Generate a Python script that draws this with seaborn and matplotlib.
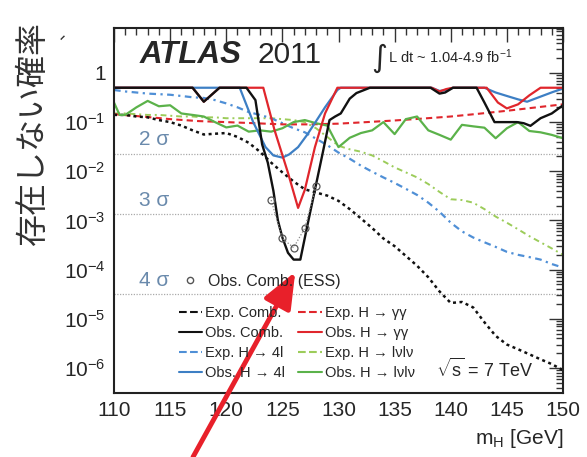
import numpy as np
import pandas as pd
import matplotlib
matplotlib.use("Agg")
import matplotlib.pyplot as plt
import seaborn as sns
from matplotlib.lines import Line2D
from matplotlib.ticker import MultipleLocator, FixedLocator, FuncFormatter, NullFormatter

# ---------------- data ----------------
mass = list(range(110, 151))

exp_comb = [0.14, 0.14, 0.13, 0.125, 0.11, 0.10, 0.085, 0.068, 0.056, 0.058,
            0.06, 0.05, 0.038, 0.025, 0.015, 0.0095, 0.0062, 0.0043, 0.0037, 0.0032,
            0.0025, 0.0017, 0.0011, 0.0007, 0.00043, 0.0003, 0.00019, 0.00012, 0.00007, 0.000036,
            0.000021, 0.000022, 0.000017, 0.0000085, 0.0000045, 0.000003, 0.0000024, 0.0000019,
            0.0000015, 0.0000012, 0.0000009]

exp_4l = [0.45, 0.42, 0.40, 0.38, 0.37, 0.36, 0.34, 0.32, 0.31, 0.28,
          0.24, 0.20, 0.16, 0.14, 0.12, 0.095, 0.075, 0.062, 0.046, 0.034,
          0.024, 0.018, 0.013, 0.0098, 0.0075, 0.0058, 0.0044, 0.0033, 0.0023, 0.0015,
          0.0009, 0.0006, 0.00045, 0.00036, 0.00029, 0.00023, 0.0002, 0.00018, 0.00016,
          0.00013, 0.00011]

exp_lvlv = [0.15, 0.15, 0.145, 0.14, 0.14, 0.135, 0.13, 0.13, 0.125, 0.125,
            0.12, 0.12, 0.12, 0.12, 0.12, 0.115, 0.11, 0.1, 0.075, 0.05,
            0.033, 0.028, 0.025, 0.021, 0.016, 0.012, 0.0095, 0.0075, 0.0055, 0.0038,
            0.0027, 0.0026, 0.0023, 0.0017, 0.0012, 0.0009, 0.00066, 0.00048, 0.00036,
            0.00027, 0.0002]

exp_gg_mass = [110, 112.5, 115, 117.5, 120, 122.5, 125, 127.5, 130, 132.5, 135,
               137.5, 140, 142.5, 145, 147.5, 150]
exp_gg = [0.145, 0.13, 0.115, 0.105, 0.1, 0.095, 0.09, 0.09, 0.093, 0.1, 0.108,
          0.118, 0.13, 0.148, 0.17, 0.198, 0.23]

obs_comb_mass = [110, 117.0, 118.0, 119.4, 121.8, 122.6, 123.2, 123.7, 124.2, 124.6,
                 125.0, 125.5, 126.0, 126.6, 127.2, 127.9, 128.6, 129.2, 129.7, 130.2,
                 131.0, 131.6, 132.8, 138.2, 139.0, 139.5, 140.2, 142.3, 143.0, 143.9,
                 145.9, 146.5, 147.1, 148.0, 149.0, 150]
obs_comb = [0.5, 0.5, 0.26, 0.5, 0.5, 0.28, 0.035, 0.015, 0.004, 0.001,
            0.00045, 0.00022, 0.00016, 0.00016, 0.00074, 0.0042, 0.024, 0.11, 0.13, 0.15,
            0.3, 0.39, 0.5, 0.5, 0.38, 0.4, 0.5, 0.5, 0.25, 0.1,
            0.1, 0.095, 0.084, 0.12, 0.15, 0.22]

ess_mass = [124, 125, 126, 127, 128]
ess_p = [0.0026, 0.00043, 0.00028, 0.0007, 0.005]

obs_gg_mass = [110, 117.0, 118.0, 119.4, 123.3, 124.3, 125.5, 126.4, 127.0, 127.9,
               128.8, 129.9, 138.3, 139.0, 139.6, 140.2, 143.2, 144.2, 145.0, 146.0,
               147.0, 148.0, 150]
obs_gg = [0.5, 0.5, 0.26, 0.5, 0.5, 0.069, 0.0093, 0.0018, 0.0042, 0.031,
          0.15, 0.5, 0.5, 0.42, 0.47, 0.5, 0.5, 0.25, 0.19, 0.23,
          0.35, 0.5, 0.5]

obs_4l_mass = [110, 121.2, 122.4, 123.5, 124.2, 125.0, 125.6, 126.4, 127.2, 127.9,
               128.8, 129.9, 130.2, 138.3, 139.0, 139.6, 140.2, 143.0, 144.0, 145.0,
               146.0, 146.8, 148.0, 149.1, 150]
obs_4l = [0.5, 0.5, 0.1, 0.031, 0.021, 0.019, 0.022, 0.031, 0.055, 0.096,
          0.2, 0.45, 0.5, 0.5, 0.43, 0.45, 0.5, 0.5, 0.4, 0.34,
          0.29, 0.26, 0.33, 0.41, 0.48]

obs_lvlv_mass = [110, 110.5, 111, 112, 113, 114, 115, 116, 117, 118, 119, 120, 121, 122,
                 123, 124, 125, 126, 127, 128, 129, 130, 131, 132, 133, 134, 135, 136,
                 137, 138, 139, 140, 141, 142, 143, 144, 145, 146, 147, 148, 149, 150]
obs_lvlv = [0.25, 0.14, 0.14, 0.2, 0.27, 0.21, 0.22, 0.15, 0.14, 0.13, 0.10, 0.078,
            0.085, 0.064, 0.068, 0.064, 0.075, 0.1, 0.11, 0.095, 0.085, 0.031, 0.048,
            0.06, 0.068, 0.1, 0.057, 0.115, 0.13, 0.068, 0.055, 0.044, 0.088, 0.082,
            0.077, 0.047, 0.075, 0.1, 0.066, 0.062, 0.055, 0.047]

sigma_names = ["2 σ", "3 σ", "4 σ"]
sigma_p = [0.0228, 0.00135, 3.17e-5]

legend_labels = ["Exp. Comb.", "Obs. Comb.", "Exp. H → 4l", "Obs. H → 4l",
                 "Exp. H → γγ", "Obs. H → γγ", "Exp. H → lνlν", "Obs. H → lνlν"]

# ---------------- style ----------------
sns.set_style("white")
plt.rcParams["font.family"] = ["Liberation Sans", "DejaVu Sans"]
plt.rcParams["mathtext.fontset"] = "custom"
plt.rcParams["mathtext.rm"] = "Liberation Sans"
plt.rcParams["mathtext.it"] = "Liberation Sans:italic"

BLACK = "#111111"
RED = "#e0262c"
BLUE = "#3d7fc4"
BLUE_EXP = "#4f8fd6"
GREEN = "#5bb24a"
GREEN_EXP = "#9ccc5a"

fig = plt.figure(figsize=(5.87, 4.57), dpi=100)
ax = fig.add_axes([114/587, 1-393/457, 449/587, 365/457])

def line(x, y, color, ls, lw=1.6, **kw):
    sns.lineplot(x=x, y=y, ax=ax, color=color, linestyle=ls, lw=lw, sort=True,
                 estimator=None, **kw)
    return ax.get_lines()[-1]

dot = (0, (1.2, 1.4))
dash = (0, (3, 2))
dashdot = (0, (3, 2, 1, 2))

h_exp_lvlv = line(mass, exp_lvlv, GREEN_EXP, dashdot, lw=1.4)
h_exp_4l = line(mass, exp_4l, BLUE_EXP, dashdot, lw=1.6)
h_exp_gg = line(exp_gg_mass, exp_gg, RED, dash, lw=1.5)
h_exp_comb = line(mass, exp_comb, BLACK, dot, lw=1.8)
h_obs_lvlv = line(obs_lvlv_mass, obs_lvlv, GREEN, "-", lw=1.6)
h_obs_4l = line(obs_4l_mass, obs_4l, BLUE, "-", lw=1.6)
h_obs_gg = line(obs_gg_mass, obs_gg, RED, "-", lw=1.6)
h_obs_comb = line(obs_comb_mass, obs_comb, BLACK, "-", lw=1.7)
sns.lineplot(x=ess_mass, y=ess_p, ax=ax, color="#888888", linestyle=(0, (1, 1.5)), lw=0.9,
             marker="o", markersize=5, markerfacecolor="none", markeredgecolor="#555555",
             markeredgewidth=0.9, estimator=None)

for p in sigma_p:
    ax.axhline(p, color="#aaaaaa", lw=0.9, ls=(0, (1, 1.2)), zorder=0)

ax.set_yscale("log")
ax.set_xlim(110, 150)
ax.set_ylim(3.1e-7, 8.2)

ax.xaxis.set_major_locator(MultipleLocator(5))
ax.xaxis.set_minor_locator(MultipleLocator(1))
ax.yaxis.set_major_locator(FixedLocator([1e-6, 1e-5, 1e-4, 1e-3, 1e-2, 1e-1, 1]))
minor = [m * 10.0**e for e in range(-7, 1) for m in range(2, 10)]
ax.yaxis.set_minor_locator(FixedLocator(minor))
ax.yaxis.set_minor_formatter(NullFormatter())

def yfmt(v, pos):
    e = int(round(np.log10(v)))
    return "1" if e == 0 else r"$\mathregular{10^{%d}}$" % e
ax.yaxis.set_major_formatter(FuncFormatter(yfmt))

ax.tick_params(which="both", direction="in", top=True, right=True, labelsize=15,
               color="#333333", width=1.0)
ax.tick_params(which="major", length=10, pad=6)
ax.tick_params(which="minor", length=5)
for s in ax.spines.values():
    s.set_linewidth(1.5)
    s.set_color("#222222")

# sigma labels
for name, p in zip(sigma_names, sigma_p):
    ax.text(113.6, p * 1.9, name, color="#6a8aac", fontsize=15, ha="center", va="center")

# header texts
ax.text(0.057, 0.925, "ATLAS", transform=ax.transAxes, fontsize=22.5, fontweight="bold",
        fontstyle="italic", va="center", ha="left")
ax.text(0.320, 0.925, "2011", transform=ax.transAxes, fontsize=21.5, va="center", ha="left")
ax.text(0.573, 0.918, "∫", transform=ax.transAxes, fontsize=22, va="center", ha="left",
        family=["DejaVu Sans"])
ax.text(0.610, 0.922, r"L dt ~ 1.04-4.9 fb$^{\mathregular{-1}}$", transform=ax.transAxes,
        fontsize=10.5, va="center", ha="left")
ax.text(0.718, 0.065, r"$\sqrt{\mathregular{s}}$ = 7 TeV", transform=ax.transAxes,
        fontsize=13, va="center", ha="left")

# legends
handles = [h_exp_comb, h_obs_comb, h_exp_4l, h_obs_4l, h_exp_gg, h_obs_gg, h_exp_lvlv, h_obs_lvlv]
proxies = [Line2D([], [], color=h.get_color(), linestyle=h.get_linestyle(), lw=1.5) for h in handles]
leg = ax.legend(proxies, legend_labels, ncol=2, loc="upper left", frameon=False,
                bbox_to_anchor=((179-114)/449, (393-306)/365), fontsize=10.5,
                handlelength=1.6, handletextpad=0.2, columnspacing=0.9, labelspacing=0.42,
                borderpad=0, borderaxespad=0)
ax.add_artist(leg)
ess_h = Line2D([], [], color="#555555", marker="o", markersize=4.5, markerfacecolor="none",
               linestyle="none")
ax.legend([ess_h], ["Obs. Comb. (ESS)"], loc="upper left", frameon=False,
          bbox_to_anchor=((182-114)/449, (393-274)/365), fontsize=11.5, handlelength=1.0,
          handletextpad=0.6, borderpad=0, borderaxespad=0)

# axis labels
ax.set_xlabel(r"m$_{\mathregular{H}}$ [GeV]", fontsize=15)
ax.xaxis.set_label_coords(1.0, -0.093)
ax.xaxis.label.set_ha("right")
ax.set_ylabel("存在しない確率", fontsize=23, family=["Noto Sans CJK JP", "DejaVu Sans"],
              color="#333333")
ax.yaxis.set_label_coords(-0.145, 0.712)
fig.text(60/587, 1-32/457, "、", fontsize=12, family=["Noto Sans CJK JP"], color="#333333",
         rotation=90, ha="center", va="center")

# red arrow
ax.annotate("", xy=(126.15, 9e-5), xycoords="data",
            xytext=(193/587, 0/457), textcoords="figure fraction",
            arrowprops=dict(arrowstyle="-|>,head_length=1.1,head_width=0.45", color="#e8202a",
                            lw=3.5, mutation_scale=20, shrinkA=0, shrinkB=0))

fig.savefig("out.png", dpi=100)
